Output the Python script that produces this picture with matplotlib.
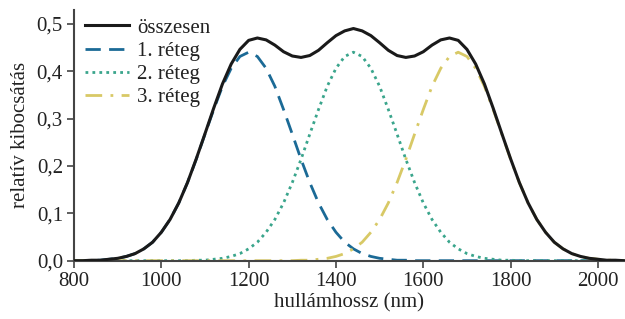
import matplotlib
matplotlib.use("Agg")
import matplotlib.pyplot as plt
from matplotlib.ticker import FuncFormatter

# wavelength grid (nm)
wavelength = list(range(800, 2061, 20))

# layer 1 (peak ~1200 nm)
layer1 = [0.000, 0.000, 0.001, 0.001, 0.003, 0.005, 0.009, 0.015, 0.025, 0.039,
          0.060, 0.087, 0.122, 0.165, 0.214, 0.267, 0.319, 0.368, 0.406, 0.431,
          0.440, 0.431, 0.406, 0.368, 0.319, 0.267, 0.214, 0.165, 0.122, 0.087,
          0.060, 0.039, 0.025, 0.015, 0.009, 0.005, 0.003, 0.001, 0.001, 0.000,
          0.000, 0.000, 0.000, 0.000, 0.000, 0.000, 0.000, 0.000, 0.000, 0.000,
          0.000, 0.000, 0.000, 0.000, 0.000, 0.000, 0.000, 0.000, 0.000, 0.000,
          0.000, 0.000, 0.000, 0.000]

# layer 2 (peak ~1440 nm)
layer2 = [0.000, 0.000, 0.000, 0.000, 0.000, 0.000, 0.000, 0.000, 0.000, 0.000,
          0.000, 0.000, 0.000, 0.000, 0.001, 0.001, 0.003, 0.005, 0.009, 0.015,
          0.025, 0.039, 0.060, 0.087, 0.122, 0.165, 0.214, 0.267, 0.319, 0.368,
          0.406, 0.431, 0.440, 0.431, 0.406, 0.368, 0.319, 0.267, 0.214, 0.165,
          0.122, 0.087, 0.060, 0.039, 0.025, 0.015, 0.009, 0.005, 0.003, 0.001,
          0.001, 0.000, 0.000, 0.000, 0.000, 0.000, 0.000, 0.000, 0.000, 0.000,
          0.000, 0.000, 0.000, 0.000]

# layer 3 (peak ~1680 nm)
layer3 = [0.000, 0.000, 0.000, 0.000, 0.000, 0.000, 0.000, 0.000, 0.000, 0.000,
          0.000, 0.000, 0.000, 0.000, 0.000, 0.000, 0.000, 0.000, 0.000, 0.000,
          0.000, 0.000, 0.000, 0.000, 0.000, 0.000, 0.001, 0.001, 0.003, 0.005,
          0.009, 0.015, 0.025, 0.039, 0.060, 0.087, 0.122, 0.165, 0.214, 0.267,
          0.319, 0.368, 0.406, 0.431, 0.440, 0.431, 0.406, 0.368, 0.319, 0.267,
          0.214, 0.165, 0.122, 0.087, 0.060, 0.039, 0.025, 0.015, 0.009, 0.005,
          0.003, 0.001, 0.001, 0.000]

total = [a + b + c for a, b, c in zip(layer1, layer2, layer3)]

labels = ["összesen", "1. réteg", "2. réteg", "3. réteg"]
x_ticks = [800, 1000, 1200, 1400, 1600, 1800, 2000]
y_ticks = [0.0, 0.1, 0.2, 0.3, 0.4, 0.5]

plt.rcParams['font.family'] = ['Liberation Serif', 'DejaVu Serif']

fig = plt.figure(figsize=(6.25, 3.19), dpi=100)
ax = fig.add_axes([0.1184, 0.1828, 0.8816, 0.7872])

ax.plot(wavelength, total, color='#1a1a1a', lw=2.2, label=labels[0], zorder=5)
ax.plot(wavelength, layer1, color='#1b6a96', lw=2.0, ls=(0, (5.5, 3)), label=labels[1])
ax.plot(wavelength, layer2, color='#3aa58c', lw=2.0, ls=(0, (1, 1.5)), label=labels[2])
ax.plot(wavelength, layer3, color='#d8c966', lw=2.0, ls=(0, (6, 3, 1, 3)), label=labels[3])

ax.set_xlim(800, 2062)
ax.set_ylim(0, 0.53)
ax.set_xticks(x_ticks)
ax.set_yticks(y_ticks)
ax.yaxis.set_major_formatter(FuncFormatter(lambda v, p: f"{v:.1f}".replace('.', ',')))

for s in ['top', 'right']:
    ax.spines[s].set_visible(False)
for s in ['left', 'bottom']:
    ax.spines[s].set_color('#444444')
    ax.spines[s].set_linewidth(1.5)
ax.tick_params(axis='both', direction='out', length=5, width=1.2, color='#444444',
               labelsize=15, labelcolor='#222222', pad=3)

ax.set_xlabel("hullámhossz (nm)", fontsize=15, color='#222222', labelpad=2)
ax.set_ylabel("relatív kibocsátás", fontsize=15, color='#222222', labelpad=5)

leg = ax.legend(loc='upper left', bbox_to_anchor=(0.005, 0.999), frameon=False,
                fontsize=15, handlelength=2.1, handletextpad=0.4,
                labelspacing=0.17, borderpad=0.2, borderaxespad=0.2)
for t in leg.get_texts():
    t.set_color('#222222')

fig.savefig("out.png", dpi=100)
